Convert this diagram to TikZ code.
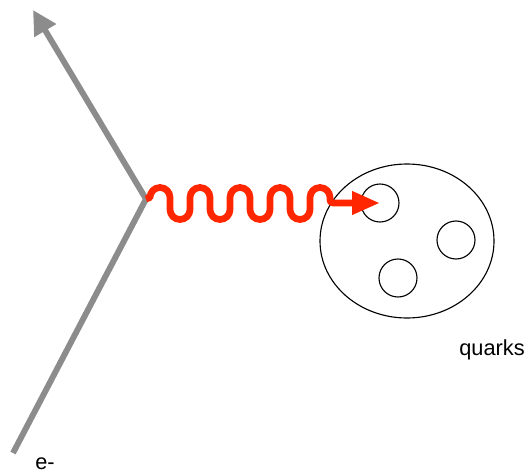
\documentclass[tikz,border=0pt]{standalone}
\usepackage{fontspec}
\setmainfont{Liberation Sans}
\usetikzlibrary{arrows.meta,shapes.geometric}
\definecolor{leptongray}{RGB}{140,140,140}
\definecolor{photonred}{RGB}{255,38,0}
\tikzset{
  lepton/.style={draw=leptongray,line width=4.2pt},
  photon/.style={draw=photonred,line width=4.8pt,line join=round},
  proton/.style={draw,ellipse,line width=0.8pt,minimum width=4.35cm,minimum height=3.85cm},
  quark/.style={draw,circle,line width=0.8pt,inner sep=0pt,minimum size=0.95cm},
  plaintext/.style={font=\fontsize{15.5}{18}\selectfont,inner sep=0pt}
}

\begin{document}
\begin{tikzpicture}
\useasboundingbox (0,0) rectangle (13.225,11.825);
\coordinate (ein) at (0.325,0.5);
\coordinate (vtx) at (3.65,6.85);
\coordinate (eout) at (0.825,11.575);
\node[proton] (p) at (10.175,5.8) {};
\node[quark] (q1) at (9.5,6.75) {};
\node[quark] (q2) at (11.4,5.825) {};
\node[quark] (q3) at (9.95,4.875) {};
\draw[lepton,-{Triangle[length=0.6cm,width=0.6cm]}] (ein) -- (vtx) -- (eout);
\draw[photon,-{Triangle[length=0.7cm,width=0.55cm]}] (vtx) -- (3.75,6.8875)
  \foreach \i in {1,...,4} {
    arc[start angle=180,end angle=0,radius=0.25] -- ++(0,-0.3)
    arc[start angle=180,end angle=360,radius=0.25] -- ++(0,0.3)
  }
  arc[start angle=180,end angle=0,radius=0.25]
  .. controls (8.25,6.75) .. (8.45,6.75) -- (q1.center);
\node[plaintext] (elabel) at (1.125,0.225) {e-};
\node[plaintext] (qlabel) at (12.3,3.075) {quarks};
\end{tikzpicture}
\end{document}
